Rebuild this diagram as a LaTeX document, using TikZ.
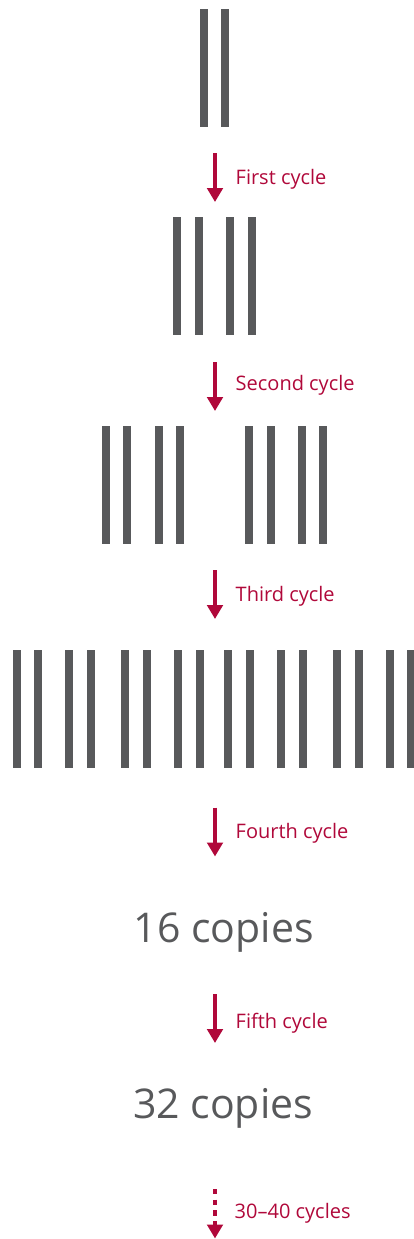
\documentclass[tikz,border=0pt]{standalone}
\usepackage{fontspec}
\setmainfont{Open Sans}
\usetikzlibrary{arrows.meta}
\definecolor{barGray}{RGB}{88,89,91}
\definecolor{cycleRed}{RGB}{176,8,58}

\begin{document}
\begin{tikzpicture}[x=1pt, y=-1pt,
  every node/.style={inner sep=0pt},
  bar/.style={fill=barGray},
  cyclearrow/.style={draw=cycleRed, line width=4.6pt,
    -{Triangle[length=14pt,width=15.5pt]}},
  cyclelabel/.style={anchor=base west, text=cycleRed,
    font=\fontsize{20}{23}\selectfont},
  copieslabel/.style={anchor=base, text=barGray,
    font=\fontsize{41}{48}\selectfont}]

\useasboundingbox (0,0) rectangle (414,1239);

% ============================
% Rows of strands
% ============================
\foreach \x in {200,221.3}{
  \fill[bar] (\x,9) rectangle ++(8,118);
}
\foreach \x in {173.3,195,226.3,247.7}{
  \fill[bar] (\x,217.3) rectangle ++(8,118);
}
\foreach \x in {102,123.3,154.7,176,245.3,266.7,298,319.3}{
  \fill[bar] (\x,425.5) rectangle ++(8,118);
}
\foreach \x in {12.7,34,65.3,87,121.3,143,174.3,196,
                224.3,245.7,277,298.7,333,354.7,385.7,407.3}{
  \fill[bar] (\x,649.5) rectangle ++(8,118);
}

% ============================
% Arrow ends
% ============================
\coordinate (c1s) at (215,153);
\coordinate (c1e) at (215,202);
\coordinate (c2s) at (215,362);
\coordinate (c2e) at (215,411);
\coordinate (c3s) at (215,570);
\coordinate (c3e) at (215,619);
\coordinate (c4s) at (215,807.5);
\coordinate (c4e) at (215,856.5);
\coordinate (c5s) at (215,994);
\coordinate (c5e) at (215,1043);
\coordinate (c6s) at (215,1189);
\coordinate (c6e) at (215,1238.5);

\draw[cyclearrow] (c1s) -- (c1e);
\draw[cyclearrow] (c2s) -- (c2e);
\draw[cyclearrow] (c3s) -- (c3e);
\draw[cyclearrow] (c4s) -- (c4e);
\draw[cyclearrow] (c5s) -- (c5e);
\draw[cyclearrow, dash pattern=on 5.3pt off 5.3pt] (c6s) -- (c6e);

% ============================
% Labels
% ============================
\node[cyclelabel] (l1) at (235.5,184.3) {First cycle};
\node[cyclelabel] (l2) at (235.5,390.7) {Second cycle};
\node[cyclelabel] (l3) at (235.5,601.7) {Third cycle};
\node[cyclelabel] (l4) at (235.5,838) {Fourth cycle};
\node[cyclelabel] (l5) at (235.5,1028) {Fifth cycle};
\node[cyclelabel] (l6) at (234.5,1218.3) {30--40 cycles};

\node[copieslabel] (n16) at (223.8,942.3) {16 copies};
\node[copieslabel] (n32) at (223,1118.3) {32 copies};

\end{tikzpicture}
\end{document}
